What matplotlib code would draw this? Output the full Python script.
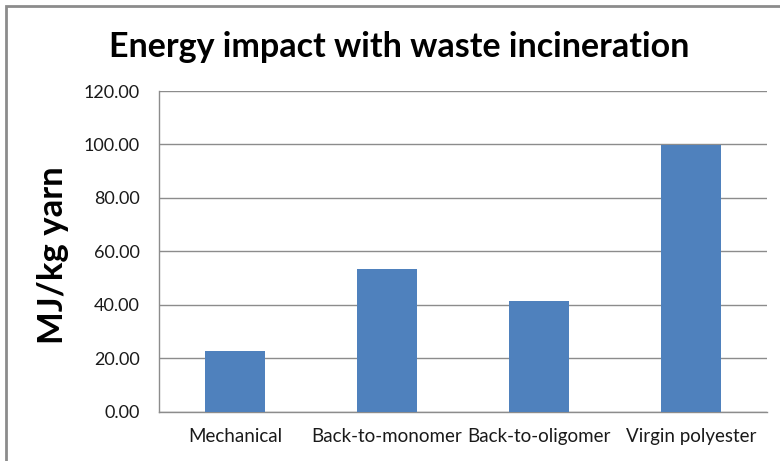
import matplotlib
matplotlib.use("Agg")
import matplotlib.pyplot as plt
from matplotlib.patches import Rectangle

categories = ["Mechanical", "Back-to-monomer", "Back-to-oligomer", "Virgin polyester"]
values = [22.6, 53.3, 41.2, 99.7]
yticks = [0, 20, 40, 60, 80, 100, 120]
title = "Energy impact with waste incineration"
ylabel = "MJ/kg yarn"

plt.rcParams['font.family'] = ['Lato', 'DejaVu Sans']

fig = plt.figure(figsize=(7.8, 4.61), dpi=100)
ax = fig.add_axes([159/780, 1-411.5/461, (767-159)/780, (411.5-91)/461])

x = list(range(len(categories)))
ax.bar(x, values, width=0.4, color="#4F81BD", zorder=3)
ax.set_xlim(-0.5, len(categories)-0.5)
ax.set_ylim(0, 120)
ax.set_yticks(yticks)
ax.set_yticklabels([f"{v:.2f}" for v in yticks], fontsize=13, color="#1a1a1a")
ax.set_xticks(x)
ax.set_xticklabels(categories, fontsize=13.5, color="#1a1a1a")
ax.tick_params(axis='both', length=0)
ax.tick_params(axis='y', pad=14)
ax.tick_params(axis='x', pad=12)
ax.grid(axis='y', color="#8c8c8c", linewidth=1.0, zorder=0)
for s in ['top', 'right']:
    ax.spines[s].set_visible(False)
for s in ['left', 'bottom']:
    ax.spines[s].set_color("#8c8c8c")
    ax.spines[s].set_linewidth(1.0)

ax.set_ylabel(ylabel, fontsize=25, fontweight='bold', va='center')
ax.yaxis.set_label_coords((53-159)/608, (411.5-255)/(411.5-91))
fig.text(399/780, 1-47/461, title, ha='center', va='center', fontsize=24.5, fontweight='bold')

fig.patches.append(Rectangle((6/780, -0.05), 1.0, 1-6/461+0.05, transform=fig.transFigure,
                             fill=False, edgecolor="#8c8c8c", linewidth=2.0))

fig.savefig("out.png", dpi=100)
